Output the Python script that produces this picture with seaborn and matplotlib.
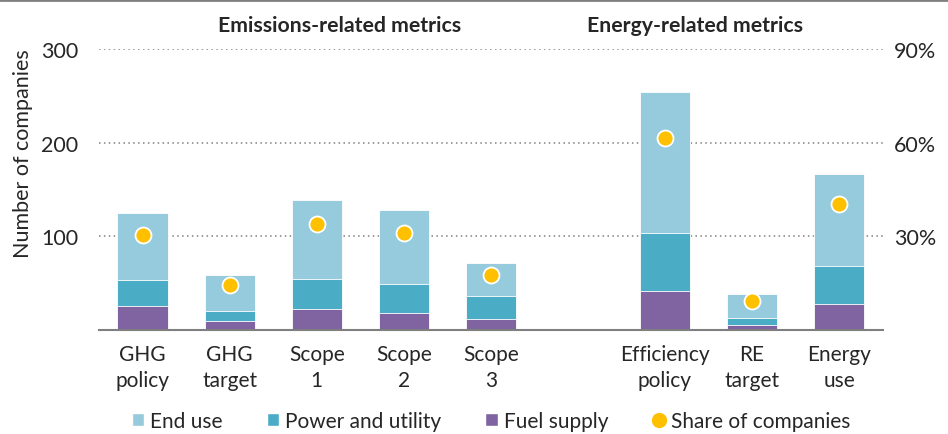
import matplotlib
matplotlib.use("Agg")
import pandas as pd
import matplotlib.pyplot as plt
import seaborn as sns
from matplotlib.patches import Patch
from matplotlib.lines import Line2D

# Dados
categories = ["GHG\npolicy", "GHG\ntarget", "Scope\n1", "Scope\n2", "Scope\n3",
              "Efficiency\npolicy", "RE\ntarget", "Energy\nuse"]
fuel_supply = [26, 10, 22, 18, 12, 42, 5, 28]
power_utility = [27, 10, 33, 31, 24, 62, 8, 40]
end_use = [72, 39, 84, 79, 36, 150, 25, 99]
share_pct = [30.3, 14.4, 34.0, 31.0, 17.5, 61.5, 9.3, 40.5]

# Ordem com um espaço vazio entre os dois grupos
order = categories[:5] + [""] + categories[5:]

c_end = "#95cbdc"
c_power = "#4bacc6"
c_fuel = "#8064a2"
c_dot = "#ffc000"

df = pd.DataFrame({"cat": categories, "fuel": fuel_supply,
                   "power": power_utility, "end": end_use, "share": share_pct})
df["fuel_power"] = df["fuel"] + df["power"]
df["total"] = df["fuel_power"] + df["end"]

sns.set_style("white")
plt.rcParams["font.family"] = ["Lato", "DejaVu Sans"]

fig, ax = plt.subplots(figsize=(9.48, 4.35), dpi=100)
fig.subplots_adjust(left=0.1044, right=0.931, bottom=0.239, top=0.885)

# Barras empilhadas (total -> parcial -> base)
for col, color in [("total", c_end), ("fuel_power", c_power), ("fuel", c_fuel)]:
    sns.barplot(data=df, x="cat", y=col, order=order, color=color, width=0.575,
                saturation=1, edgecolor="white", linewidth=0.6, ax=ax)

ax.set_ylim(0, 300)
ax.set_xlim(-0.5, 8.5)
ax.set_yticks([100, 200, 300])
ax.tick_params(axis="y", labelsize=15.5, length=0, pad=15)
ax.tick_params(axis="x", labelsize=15, length=0, pad=10)
for lbl in ax.get_xticklabels():
    lbl.set_linespacing(1.38)
ax.set_xlabel("")
ax.set_ylabel("Number of companies", fontsize=15.5)
ax.yaxis.set_label_coords(-0.084, 0.633)
ax.yaxis.grid(True, linestyle=(0, (1, 2.2)), color="#808080", linewidth=1.1)
ax.set_axisbelow(True)
for s in ["top", "right", "left"]:
    ax.spines[s].set_visible(False)
ax.spines["bottom"].set_color("#7f7f7f")
ax.spines["bottom"].set_linewidth(1.5)

# Eixo secundário com a participação
ax2 = ax.twinx()
sns.pointplot(data=df, x="cat", y="share", order=order, color=c_dot,
              linestyle="none", errorbar=None, markersize=11.5,
              markeredgecolor="white", markeredgewidth=1.3, ax=ax2, zorder=5)
ax2.set_ylim(0, 90)
ax2.set_xlim(-0.5, 8.5)
ax2.set_yticks([30, 60, 90])
ax2.set_yticklabels(["30%", "60%", "90%"])
ax2.tick_params(axis="y", labelsize=15.5, length=0, pad=8)
ax2.set_ylabel("")
ax2.set_xlabel("")
for s in ax2.spines.values():
    s.set_visible(False)

# Títulos dos grupos
ax.text(2.26, 325.5, "Emissions-related metrics", ha="center", va="center",
        fontsize=15.3, fontweight="bold")
ax.text(6.34, 325.5, "Energy-related metrics", ha="center", va="center",
        fontsize=15.3, fontweight="bold")

# Legenda
handles = [Patch(facecolor=c_end, label="End use"),
           Patch(facecolor=c_power, label="Power and utility"),
           Patch(facecolor=c_fuel, label="Fuel supply"),
           Line2D([], [], marker="o", linestyle="none", color=c_dot,
                  markersize=10, label="Share of companies")]
fig.legend(handles=handles, loc="center", bbox_to_anchor=(0.518, 0.03),
           ncol=4, frameon=False, fontsize=15, handlelength=0.6,
           handleheight=0.6, handletextpad=0.3, columnspacing=2.1,
           borderpad=0)

# Linha cinza no topo
fig.add_artist(Line2D([0, 1], [0.998, 0.998], color="#808080", linewidth=2,
                      transform=fig.transFigure))

fig.savefig("out.png", dpi=100)
